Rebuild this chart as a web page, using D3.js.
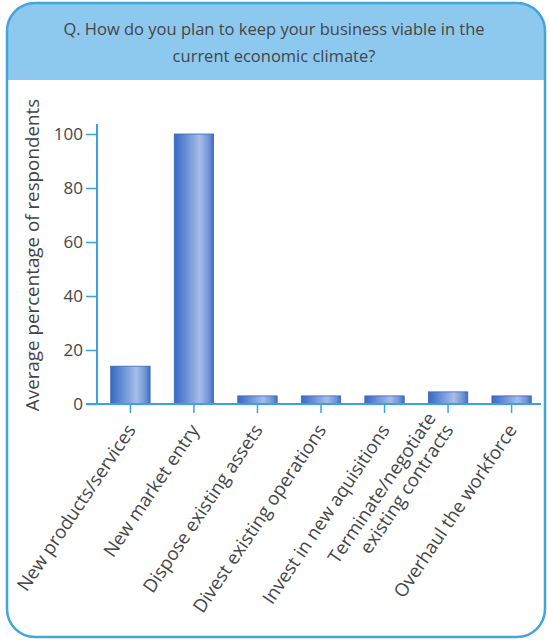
<!DOCTYPE html>
<html>
<head>
<meta charset="utf-8">
<script src="https://cdnjs.cloudflare.com/ajax/libs/d3/7.8.5/d3.min.js"></script>
<style>
  html, body { margin: 0; padding: 0; background: #ffffff; }
  svg { display: block; }
</style>
</head>
<body>
<svg id="chart" width="548" height="640"></svg>
<script>
// Survey answers: share of respondents per strategy
const categories = [
  ["New products/services"],
  ["New market entry"],
  ["Dispose existing assets"],
  ["Divest existing operations"],
  ["Invest in new aquisitions"],
  ["Terminate/negotiate", "existing contracts"],
  ["Overhaul the workforce"]
];
const values = [14, 100, 3, 3, 3, 4.5, 3];
const yTicks = [0, 20, 40, 60, 80, 100];
const titleLines = [
  "Q. How do you plan to keep your business viable in the",
  "current economic climate?"
];
const yLabel = "Average percentage of respondents";

const svg = d3.select("#chart");
const font = "'Open Sans', 'DejaVu Sans', sans-serif";
const textColor = "#454545";

// Panel frame with header band
const frame = { x: 7, y: 3, w: 538, h: 634, r: 28 };
const defs = svg.append("defs");
defs.append("clipPath").attr("id", "frameClip")
  .append("rect")
  .attr("x", frame.x).attr("y", frame.y)
  .attr("width", frame.w).attr("height", frame.h)
  .attr("rx", frame.r).attr("ry", frame.r);

svg.append("rect")
  .attr("x", frame.x).attr("y", frame.y)
  .attr("width", frame.w).attr("height", frame.h)
  .attr("rx", frame.r).attr("ry", frame.r)
  .attr("fill", "#ffffff");

svg.append("rect")
  .attr("clip-path", "url(#frameClip)")
  .attr("x", frame.x).attr("y", frame.y)
  .attr("width", frame.w).attr("height", 77)
  .attr("fill", "#8dc9ee");

svg.append("rect")
  .attr("x", frame.x).attr("y", frame.y)
  .attr("width", frame.w).attr("height", frame.h)
  .attr("rx", frame.r).attr("ry", frame.r)
  .attr("fill", "none")
  .attr("stroke", "#43a5dc")
  .attr("stroke-width", 2.5);

// Title
svg.append("g").selectAll("text")
  .data(titleLines)
  .join("text")
  .attr("x", 274)
  .attr("y", (d, i) => 35 + i * 27)
  .attr("text-anchor", "middle")
  .attr("font-family", font)
  .attr("font-size", 16.5)
  .attr("fill", textColor)
  .text(d => d);

// Scales
const plot = { left: 97, right: 541, top: 124, bottom: 404 };
const x = d3.scaleBand()
  .domain(d3.range(categories.length))
  .range([98, 544])
  .paddingInner(0.38)
  .paddingOuter(0.2);
const y = d3.scaleLinear().domain([0, 100]).range([404, 134]);

// Bar gradient
const grad = defs.append("linearGradient")
  .attr("id", "barGrad")
  .attr("x1", "0%").attr("x2", "100%").attr("y1", "0%").attr("y2", "0%");
grad.append("stop").attr("offset", "0%").attr("stop-color", "#3a69c0");
grad.append("stop").attr("offset", "15%").attr("stop-color", "#4f7ccb");
grad.append("stop").attr("offset", "65%").attr("stop-color", "#a6bde9");
grad.append("stop").attr("offset", "88%").attr("stop-color", "#7093d6");
grad.append("stop").attr("offset", "100%").attr("stop-color", "#3c6bc0");

svg.append("g").selectAll("rect")
  .data(values)
  .join("rect")
  .attr("x", (d, i) => x(i))
  .attr("y", d => y(d))
  .attr("width", x.bandwidth())
  .attr("height", d => y(0) - y(d))
  .attr("fill", "url(#barGrad)")
  .attr("stroke", "#3a66b8")
  .attr("stroke-width", 0.8);

const axisColor = "#3aa3dc";

// Y axis
const yAxis = svg.append("g")
  .attr("transform", `translate(${plot.left},0)`)
  .call(d3.axisLeft(y).tickValues(yTicks).tickSize(11).tickPadding(3).tickSizeOuter(0));
yAxis.select(".domain").attr("d", `M0,${plot.top}V${plot.bottom}`)
  .attr("stroke", axisColor).attr("stroke-width", 2);
yAxis.selectAll(".tick line").attr("stroke", axisColor).attr("stroke-width", 1.5);
yAxis.selectAll(".tick text")
  .attr("font-family", font).attr("font-size", 17).attr("fill", textColor);

// X axis
const xAxis = svg.append("g")
  .attr("transform", `translate(0,${plot.bottom})`)
  .call(d3.axisBottom(x).tickSize(9).tickFormat(() => "").tickSizeOuter(0));
xAxis.select(".domain").attr("d", `M86,0H${plot.right}`)
  .attr("stroke", axisColor).attr("stroke-width", 2);
xAxis.selectAll(".tick line").attr("stroke", axisColor).attr("stroke-width", 1.5);

// Rotated category labels
const labels = svg.append("g").selectAll("text")
  .data(categories)
  .join("text")
  .attr("transform", (d, i) => {
    const cx = x(i) + x.bandwidth() / 2;
    return `translate(${cx + 6},${plot.bottom + 26}) rotate(-56)`;
  })
  .attr("text-anchor", "end")
  .attr("font-family", font)
  .attr("font-size", 18.5)
  .attr("fill", textColor);
labels.selectAll("tspan")
  .data(d => d.map((t, k) => ({ t, k, n: d.length })))
  .join("tspan")
  .attr("x", 0)
  .attr("y", d => (d.k - (d.n - 1)) * 21)
  .text(d => d.t);

// Y axis title
svg.append("text")
  .attr("transform", `translate(39,255) rotate(-90)`)
  .attr("text-anchor", "middle")
  .attr("font-family", font)
  .attr("font-size", 18.8)
  .attr("fill", textColor)
  .text(yLabel);
</script>
</body>
</html>
